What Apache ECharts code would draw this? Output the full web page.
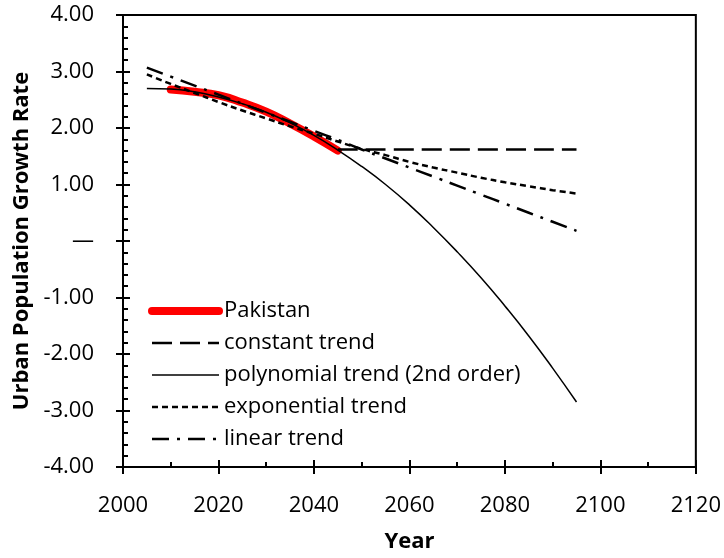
<!DOCTYPE html>
<html>
<head>
<meta charset="utf-8">
<style>
  html, body { margin: 0; padding: 0; background: #fff; }
  #chart { width: 724px; height: 558px; }
</style>
<script src="https://cdn.jsdelivr.net/npm/echarts@6/dist/echarts.min.js"></script>
</head>
<body>
<div id="chart"></div>
<script>
// years for the trend lines (5-year steps)
const trendYears = [2005, 2010, 2015, 2020, 2025, 2030, 2035, 2040, 2045, 2050,
  2055, 2060, 2065, 2070, 2075, 2080, 2085, 2090, 2095];

const pakistanYears = [2010, 2015, 2020, 2025, 2030, 2035, 2040, 2045];
const pakistan = [2.68, 2.64, 2.58, 2.45, 2.29, 2.08, 1.85, 1.60];

const constantYears = [2045, 2095];
const constant = [1.62, 1.62];

const polynomial = [2.70, 2.69, 2.64, 2.55, 2.43, 2.28, 2.09, 1.87, 1.61, 1.32,
  1.00, 0.64, 0.24, -0.19, -0.65, -1.15, -1.68, -2.25, -2.85];
const exponential = [2.95, 2.78, 2.62, 2.46, 2.31, 2.17, 2.03, 1.90, 1.76, 1.63,
  1.52, 1.40, 1.30, 1.21, 1.12, 1.04, 0.97, 0.90, 0.84];
const linear = [3.07, 2.91, 2.75, 2.59, 2.43, 2.27, 2.11, 1.95, 1.79, 1.62,
  1.46, 1.30, 1.14, 0.98, 0.82, 0.66, 0.50, 0.34, 0.18];

const seriesNames = ['Pakistan', 'constant trend', 'polynomial trend (2nd order)',
  'exponential trend', 'linear trend'];

const FONT = 'Open Sans';

function pairs(xs, ys) {
  return xs.map((x, i) => [x, ys[i]]);
}

const chart = echarts.init(document.getElementById('chart'));

const baseX = {
  type: 'value',
  min: 2000,
  max: 2120,
  interval: 20,
  splitLine: { show: false }
};
const baseY = {
  type: 'value',
  min: -4,
  max: 4,
  interval: 1,
  splitLine: { show: false }
};

function trendLine(name, data, lineStyle) {
  return {
    name: name,
    type: 'line',
    data: data,
    symbol: 'none',
    smooth: true,
    z: 3,
    lineStyle: Object.assign({ color: '#000' }, lineStyle),
    itemStyle: { color: '#000', opacity: 0 }
  };
}

chart.setOption({
  animation: false,
  textStyle: { fontFamily: FONT },
  grid: {
    left: 123, right: 27, top: 15, bottom: 91,
    show: true,
    borderColor: '#000',
    borderWidth: 2,
    backgroundColor: 'transparent'
  },
  legend: {
    orient: 'vertical',
    left: 148,
    top: 300,
    padding: 0,
    itemWidth: 67,
    itemHeight: 14,
    itemGap: 10,
    data: seriesNames,
    selectedMode: false,
    itemStyle: { opacity: 0 },
    lineStyle: { width: 'inherit' },
    textStyle: { fontFamily: FONT, fontSize: 22, color: '#000', lineHeight: 22 }
  },
  xAxis: [
    Object.assign({}, baseX, {
      name: 'Year',
      nameLocation: 'middle',
      nameGap: 64,
      nameTextStyle: { fontFamily: FONT, fontSize: 22, fontWeight: 'bold', color: '#000' },
      axisLine: { onZero: false, lineStyle: { color: '#000', width: 2 } },
      axisTick: { inside: false, length: 7, lineStyle: { color: '#000', width: 2 } },
      axisLabel: {
        margin: 28,
        fontFamily: FONT,
        fontSize: 22,
        color: '#000',
        formatter: v => String(v)
      }
    }),
    Object.assign({}, baseX, {
      position: 'bottom',
      axisLine: { show: false, onZero: false },
      axisLabel: { show: false },
      axisTick: { inside: true, length: 7, lineStyle: { color: '#000', width: 2 } },
      minorTick: { show: true, splitNumber: 2, length: 5, lineStyle: { color: '#000', width: 2 } }
    })
  ],
  yAxis: [
    Object.assign({}, baseY, {
      name: 'Urban Population Growth Rate',
      nameLocation: 'middle',
      nameGap: 86,
      nameTextStyle: { fontFamily: FONT, fontSize: 22, fontWeight: 'bold', color: '#000' },
      axisLine: { onZero: false, lineStyle: { color: '#000', width: 2 } },
      axisTick: { inside: false, length: 7, lineStyle: { color: '#000', width: 2 } },
      axisLabel: {
        margin: 29,
        fontFamily: FONT,
        fontSize: 22,
        color: '#000',
        formatter: v => (v === 0 ? '\u2014' : v.toFixed(2))
      }
    }),
    Object.assign({}, baseY, {
      position: 'left',
      axisLine: { show: false, onZero: false },
      axisLabel: { show: false },
      axisTick: { inside: true, length: 7, lineStyle: { color: '#000', width: 2 } },
      minorTick: { show: true, splitNumber: 5, length: 5, lineStyle: { color: '#000', width: 2 } }
    })
  ],
  series: [
    {
      name: 'Pakistan',
      type: 'line',
      data: pairs(pakistanYears, pakistan),
      symbol: 'none',
      smooth: true,
      z: 1,
      lineStyle: { color: '#ff0000', width: 8, cap: 'round' },
      itemStyle: { color: '#ff0000', opacity: 0 }
    },
    trendLine('constant trend', pairs(constantYears, constant), { width: 2.5, type: [20, 8] }),
    trendLine('polynomial trend (2nd order)', pairs(trendYears, polynomial), { width: 1.5 }),
    trendLine('exponential trend', pairs(trendYears, exponential), { width: 2.5, type: [6, 4] }),
    trendLine('linear trend', pairs(trendYears, linear), { width: 2.5, type: [17, 8, 3, 8] })
  ]
});

window.addEventListener('resize', () => chart.resize());
</script>
</body>
</html>
